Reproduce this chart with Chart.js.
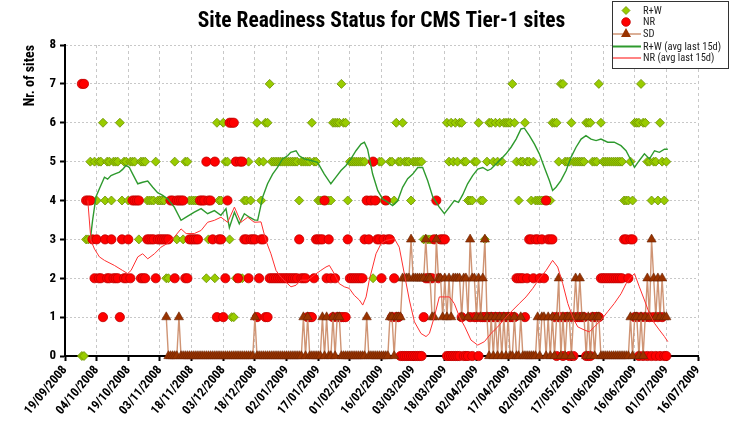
<!DOCTYPE html>
<html><head><meta charset="utf-8">
<script src="https://cdn.jsdelivr.net/npm/chart.js@4.4.0/dist/chart.umd.min.js"></script>
<style>html,body{margin:0;padding:0;background:#fff;overflow:hidden}#wrap{width:731px;height:425px}</style>
</head><body><div id="wrap"><canvas id="c" width="731" height="425"></canvas></div>
<script>
// x = days since 19/09/2008
const tickLabels = ['19/09/2008','04/10/2008','19/10/2008','03/11/2008','18/11/2008','03/12/2008','18/12/2008','02/01/2009','17/01/2009','01/02/2009','16/02/2009','03/03/2009','18/03/2009','02/04/2009','17/04/2009','02/05/2009','17/05/2009','01/06/2009','16/06/2009','01/07/2009','16/07/2009'];
const seriesNames = ['R+W','NR','SD','R+W (avg last 15d)','NR (avg last 15d)'];
const firstDay = 8;
const rwValues = [0,0,3,3,5,4,5,4,5,5, 6,4,5,5,4,5,5,5,6,4, 5,5,4,5,5,5,4,3,5,5, 5,4,4,4,4,5,4,4,4,4,
 2,2,4,4,5,3,4,4,3,5, 5,4,4,4,4,4,4,4,4,2, 3,4,3,2,6,4,4,6,5,5, 3,1,1,2,5,2,2,4,4,5,
 4,3,3,6,5,4,5,6,6,7, 5,5,5,5,5,5,5,5,5,5, 5,5,5,4,5,5,5,5,5,6, 5,5,4,4,4,4,4,4,4,6,
 6,6,6,7,6,6,4,5,5,5, 5,5,5,5,5,4,4,4,2,4, 4,5,5,4,4,4,5,5,4,6, 5,5,6,5,5,5,4,5,5,5,
 5,5,3,3,3,3,3,3,3,3, 3,3,3,6,5,6,5,6,5,6, 6,5,5,4,4,4,5,5,6,4, 4,3,5,6,6,5,6,5,6,5,
 6,6,6,6,7,6,5,4,5,5, 6,5,5,4,5,4,4,4,4,4, 4,4,4,6,6,6,5,7,7,5, 5,5,6,5,5,5,5,5,5,6,
 6,6,5,5,5,7,6,5,5,5, 5,5,5,5,5,5,5,4,4,4, 5,4,6,6,6,7,6,6,5,5, 4,5,5,4,6,5,4,5];
const nrValues = [7,7,4,4,4,3,2,3,2,2, 1,3,2,2,3,2,2,2,1,3, 2,2,3,2,4,4,4,4,2,2, 2,3,3,3,3,2,3,3,3,3,
 3,3,4,4,2,4,4,4,4,2, 2,3,3,3,3,3,4,4,4,5, 4,4,3,5,1,3,3,1,2,4, 6,6,6,5,2,5,5,3,3,2,
 3,3,3,1,2,3,3,1,1,2, 2,2,2,2,2,2,2,2,2,2, 2,2,2,3,2,2,2,1,1,1, 2,3,3,3,3,4,2,3,2,1,
 2,1,1,1,1,1,3,2,2,2, 2,2,2,2,3,4,3,4,5,4, 3,3,2,3,4,3,3,1,2,1, 1,0,0,0,0,0,0,0,0,0,
 0,0,1,2,2,2,2,3,4,2, 3,3,3,0,0,0,0,0,0,0, 1,0,0,0,1,0,1,1,0,1, 1,1,1,1,1,1,1,1,1,1,
 1,1,1,1,1,1,2,2,2,2, 1,2,3,3,2,3,3,2,3,2, 4,3,3,3,1,0,1,1,0,1, 1,0,1,0,1,1,1,1,1,0,
 0,0,1,1,1,1,2,2,2,2, 2,2,2,2,2,2,2,3,3,2, 3,3,1,1,0,1,0,1,0,1, 0,1,0,1,0,1,0,0];
const sdFirstDay = 48;
const sdValues = [1,0,0,0,0,0,1,0,0,0, 0,0,0,0,0,0,0,0,0,0, 0,0,0,0,0,0,0,0,0,0, 0,0,0,0,0,0,0,0,0,0,
 0,0,1,0,0,0,0,0,0,0, 0,0,0,0,0,0,0,0,0,0, 0,0,0,0,0,1,0,1,0,0, 0,0,0,0,1,0,1,0,0,1,
 0,1,1,0,0,0,0,0,0,0, 0,0,0,0,0,1,0,0,0,0, 0,0,0,0,0,0,1,1,0,1, 1,1,2,2,2,2,3,2,2,2,
 2,2,2,3,2,2,1,1,3,2, 2,1,2,1,2,1,2,2,2,2, 1,2,2,1,3,2,2,1,2,1, 2,3,1,0,1,0,1,0,1,0,
 1,0,1,0,0,1,0,0,1,0, 0,0,0,0,0,0,1,0,1,1, 0,1,0,1,0,1,2,0,1,0, 1,1,0,1,2,1,2,1,1,0,
 1,0,1,0,1,1,0,0,0,0, 0,0,0,0,0,0,0,0,0,0, 1,0,1,1,0,1,0,1,2,1, 3,2,1,2,1,2,1,1];
const rwAvgDays = [12,13.1,14.7,16.3,18.7,20.2,21.8,23.4,25.8,27.3,28.9,30.5,32.1,34.5,36.8,39.2,41.6,43.9,46.3,48.7,51.8,55,57.4,61.3,64.5,67.6,70.8,73.9,76.3,77.9,80.3,82.6,85,87.4,89.7,91.3,93.7,96,98.4,100.7,103.1,105.5,107,109.5,111,113.4,116.6,119.7,122.9,126,128.4,130.8,133.2,135.5,137.9,140.3,141.9,143.4,145.8,148.2,150.5,152.9,155.3,157.7,160,162.4,164.8,167.2,169.5,171.9,174.3,177.4,179.8,182.2,184.5,186.5,188.5,190.8,193.2,195.6,198,200.3,201.9,204.3,206.7,209,211.4,213.8,216.1,217.7,220.1,222.5,224.8,227.2,229.6,231.1,232.7,235,237.5,239.8,242.2,244.6,246.9,249.3,251.7,254,257.2,260.3,263.5,265.9,268.3,269.9,272.2,274.6,277,279.4,281.7,284.1,285.7];
const rwAvgValues = [3.0,3.5,4.1,4.3,4.6,4.55,4.64,4.68,4.73,4.8,4.9,4.85,4.68,4.43,4.47,4.5,4.34,4.2,4.13,4.04,3.83,3.49,3.57,3.7,3.79,3.66,3.74,3.62,3.79,3.3,3.7,3.4,3.66,3.57,3.5,3.49,4.09,4.43,4.68,4.85,5.07,5.15,5.24,5.28,5.15,5.07,5.03,4.98,4.68,4.43,4.6,4.77,4.9,5.07,5.28,5.45,5.5,5.32,4.68,4.26,4.04,3.96,3.87,4.0,4.34,4.56,4.68,4.85,4.85,4.51,4.09,3.83,3.66,3.83,4.0,3.95,4.15,4.43,4.64,4.81,4.85,4.77,4.81,4.94,5.07,5.2,5.37,5.58,5.84,5.86,5.67,5.45,5.2,4.85,4.51,4.26,4.34,4.51,4.77,5.11,5.37,5.58,5.67,5.58,5.54,5.58,5.5,5.5,5.41,5.28,5.03,4.85,5.03,5.2,5.07,5.28,5.24,5.32,5.32];
const nrAvgDays = [10.8,12.3,14,16.3,18.7,23.4,27.3,29.7,31.3,34.5,36.8,39.2,42.4,45.5,48.7,51.8,55,57.4,61.3,64.5,67.6,70.8,73.9,77.1,80.3,83.4,86.6,89.7,92.9,95.2,97.6,100,102.3,104.7,107.1,109.5,111.8,115,118.1,121.2,123.7,125.3,127.6,130,132.4,134.7,137.1,139.5,141.1,142.7,144.2,145.8,147.4,149.8,152.1,156.1,158.4,160.8,163.2,165.6,168.7,171.1,172.7,175,177.4,179.8,182.2,184.5,187,189.5,192.4,195.6,198.8,201.9,205.1,209,212.2,215.3,218.5,221.7,224.8,228,231.1,233.5,235.9,238.3,240.6,243,246.1,248.5,250.9,254,257.2,260.3,263.5,265.9,268.3,269.9,272.2,274.6,277,279.4,281.7,284.1,285.7];
const nrAvgValues = [4.0,2.97,2.75,2.55,2.46,2.33,2.2,2.12,2.2,2.55,2.63,2.5,2.63,2.8,2.9,3.06,3.27,3.15,3.15,3.23,3.44,3.49,3.57,3.44,3.83,3.44,3.57,3.44,3.45,2.97,2.63,2.2,2.03,1.9,1.78,1.82,1.95,1.95,2.08,2.2,2.29,2.33,2.12,1.86,1.78,1.74,1.56,1.44,1.31,1.52,1.95,2.29,2.63,2.89,2.97,3.02,2.8,2.12,1.44,0.88,0.58,0.5,0.58,1.0,1.52,1.52,1.52,1.35,1.0,0.75,0.41,0.28,0.37,0.58,0.75,1.0,1.18,1.35,1.52,1.74,1.99,2.2,2.46,2.29,1.86,1.35,1.0,0.75,0.67,0.62,0.75,0.92,1.14,1.35,1.6,1.86,2.03,2.12,1.78,1.44,1.09,0.84,0.67,0.5,0.37];

const FONT = "'Roboto Condensed','DejaVu Sans Condensed',sans-serif";
const C = {
  rwFill:'#99cc00', rwEdge:'#6b8f00', nrFill:'#ff0000', nrEdge:'#c00000',
  sdFill:'#993300', sdEdge:'#6a2200', sdLine:'#cf9474', rwAvg:'#2e9a2e', nrAvg:'#ff3030'
};
const pts = (start, vals) => vals.map((v, i) => ({x: start + i, y: v}));
const xy = (xs, ys) => xs.map((x, i) => ({x: x, y: ys[i]}));

const legendPlugin = {
  id: 'boxLegend',
  afterDraw(chart) {
    const ctx = chart.ctx;
    ctx.save();
    ctx.fillStyle = '#fff'; ctx.fillRect(612.5, 1.5, 116, 67);
    ctx.strokeStyle = '#333'; ctx.lineWidth = 1; ctx.strokeRect(612.5, 1.5, 116, 67);
    const mx = 626, tx = 643, rows = [10.5, 22, 34, 46.5, 58];
    ctx.beginPath(); ctx.moveTo(mx-4, rows[0]); ctx.lineTo(mx, rows[0]-4); ctx.lineTo(mx+4, rows[0]); ctx.lineTo(mx, rows[0]+4); ctx.closePath();
    ctx.fillStyle = C.rwFill; ctx.fill(); ctx.strokeStyle = C.rwEdge; ctx.lineWidth = 0.8; ctx.stroke();
    ctx.beginPath(); ctx.arc(mx, rows[1], 4.3, 0, Math.PI*2); ctx.fillStyle = C.nrFill; ctx.fill(); ctx.strokeStyle = C.nrEdge; ctx.stroke();
    ctx.beginPath(); ctx.moveTo(613, rows[2]); ctx.lineTo(641, rows[2]); ctx.strokeStyle = C.sdLine; ctx.lineWidth = 1.5; ctx.stroke();
    ctx.beginPath(); ctx.moveTo(mx, rows[2]-6); ctx.lineTo(mx+5, rows[2]+3); ctx.lineTo(mx-5, rows[2]+3); ctx.closePath();
    ctx.fillStyle = C.sdFill; ctx.fill();
    ctx.beginPath(); ctx.moveTo(613, rows[3]); ctx.lineTo(641, rows[3]); ctx.strokeStyle = C.rwAvg; ctx.lineWidth = 2; ctx.stroke();
    ctx.beginPath(); ctx.moveTo(613, rows[4]); ctx.lineTo(641, rows[4]); ctx.strokeStyle = C.nrAvg; ctx.lineWidth = 1.2; ctx.stroke();
    ctx.font = '10.5px ' + FONT; ctx.fillStyle = '#222'; ctx.textBaseline = 'middle'; ctx.textAlign = 'left';
    seriesNames.forEach((t, i) => ctx.fillText(t, tx, rows[i] + 0.5));
    ctx.restore();
  }
};

new Chart(document.getElementById('c'), {
  type: 'scatter',
  data: {
    datasets: [
      { label: seriesNames[0], data: pts(firstDay, rwValues), order: 5, showLine: false,
        pointStyle: 'rectRot', pointRadius: 4.5, backgroundColor: C.rwFill, borderColor: C.rwEdge, pointBorderWidth: 0.8, clip: false },
      { label: seriesNames[1], data: pts(firstDay, nrValues), order: 4, showLine: false,
        pointStyle: 'circle', pointRadius: 4.6, backgroundColor: C.nrFill, borderColor: C.nrEdge, pointBorderWidth: 0.8, clip: false },
      { label: seriesNames[2], data: pts(sdFirstDay, sdValues), order: 3, showLine: true,
        borderColor: C.sdLine, borderWidth: 1.4, pointStyle: 'triangle', pointRadius: 5.3,
        pointBackgroundColor: C.sdFill, pointBorderColor: C.sdEdge, pointBorderWidth: 0.6, clip: false },
      { label: seriesNames[3], data: xy(rwAvgDays, rwAvgValues), order: 2, showLine: true,
        borderColor: C.rwAvg, borderWidth: 1.4, pointRadius: 0, clip: false },
      { label: seriesNames[4], data: xy(nrAvgDays, nrAvgValues), order: 1, showLine: true,
        borderColor: C.nrAvg, borderWidth: 1, pointRadius: 0, clip: false }
    ]
  },
  options: {
    responsive: false, animation: false, events: [],
    layout: { padding: { left: 18, right: 33, top: 0, bottom: 0 } },
    plugins: {
      legend: { display: false }, tooltip: { enabled: false },
      title: { display: true, text: 'Site Readiness Status for CMS Tier-1 sites', fullSize: false,
        color: '#000', font: { family: FONT, size: 21.5, weight: 'bold', lineHeight: 1.2 }, padding: { top: 9.2, bottom: 10 } }
    },
    scales: {
      x: {
        type: 'linear', min: 0, max: 300,
        afterFit: s => { s.height = 69; },
        border: { display: true, color: '#000', width: 2, dash: [3, 3] },
        grid: { color: '#c8c8c8', lineWidth: 1, tickColor: '#000', tickLength: 5, tickWidth: 2 },
        ticks: { stepSize: 15, maxTicksLimit: 40, autoSkip: false, minRotation: 50, maxRotation: 50, padding: 2,
          color: '#000', font: { family: FONT, size: 12.5, weight: 'bold' },
          callback: v => tickLabels[Math.round(v / 15)] }
      },
      y: {
        min: 0, max: 8,
        afterFit: s => { s.width = 47; },
        border: { display: true, color: '#000', width: 2, dash: [2, 2] },
        grid: { color: '#c8c8c8', lineWidth: 1, tickColor: '#000', tickLength: 5, tickWidth: 2 },
        ticks: { stepSize: 1, padding: 4, color: '#000', font: { family: FONT, size: 13, weight: 'bold' } },
        title: { display: true, text: 'Nr. of sites', align: 'end', color: '#000',
          font: { family: FONT, size: 14, weight: 'bold' }, padding: { top: 4, bottom: 0 } }
      }
    }
  },
  plugins: [legendPlugin]
});
</script>
</body></html>
